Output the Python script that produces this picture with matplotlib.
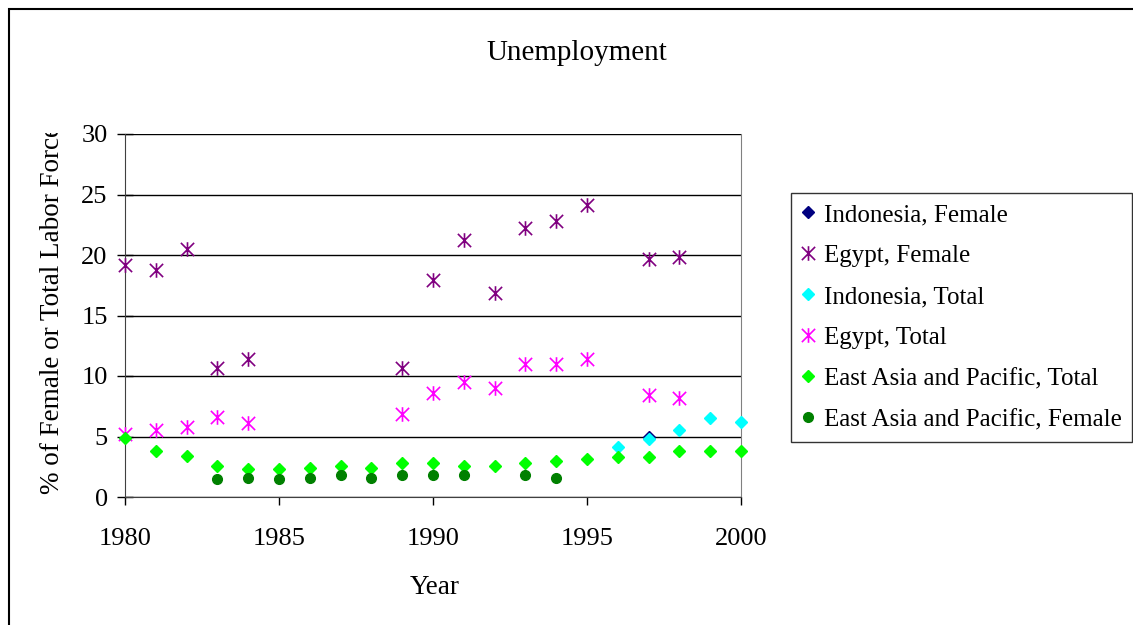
import matplotlib
matplotlib.use("Agg")
import matplotlib.pyplot as plt
from matplotlib.path import Path
from matplotlib.patches import Rectangle
from matplotlib.transforms import Bbox, TransformedBbox

plt.rcParams['font.family'] = ['Liberation Serif', 'DejaVu Serif']

############# DATA #############################################################

egypt_female_years = [1980, 1981, 1982, 1983, 1984, 1989, 1990, 1991, 1992, 1993, 1994, 1995, 1997, 1998]
egypt_female = [19.2, 18.8, 20.5, 10.7, 11.4, 10.7, 17.9, 21.2, 16.9, 22.2, 22.8, 24.1, 19.7, 19.8]

egypt_total_years = [1980, 1981, 1982, 1983, 1984, 1989, 1990, 1991, 1992, 1993, 1994, 1995, 1997, 1998]
egypt_total = [5.2, 5.5, 5.8, 6.6, 6.1, 6.9, 8.6, 9.5, 9.0, 11.0, 11.0, 11.4, 8.4, 8.2]

indonesia_female_years = [1997]
indonesia_female = [5.0]

indonesia_total_years = [1996, 1997, 1998, 1999, 2000]
indonesia_total = [4.1, 4.8, 5.5, 6.5, 6.2]

eap_total_years = list(range(1980, 2001))
eap_total = [4.9, 3.8, 3.4, 2.6, 2.3, 2.3, 2.4, 2.6, 2.4, 2.8, 2.8,
             2.6, 2.6, 2.8, 3.0, 3.1, 3.3, 3.3, 3.8, 3.8, 3.8]

eap_female_years = [1983, 1984, 1985, 1986, 1987, 1988, 1989, 1990, 1991, 1993, 1994]
eap_female = [1.5, 1.6, 1.5, 1.6, 1.8, 1.6, 1.8, 1.8, 1.8, 1.8, 1.6]

############# PLOTTING #########################################################

# Excel style star: an X with a vertical bar through it
star = Path([(-1, -1), (1, 1), (-1, 1), (1, -1), (0, -1.1), (0, 1.1)],
            [Path.MOVETO, Path.LINETO, Path.MOVETO, Path.LINETO, Path.MOVETO, Path.LINETO])

W, H = 1133, 625
fig = plt.figure(figsize=(W / 100, H / 100), dpi=100)
ax = fig.add_axes([125 / W, 1 - 497 / H, (741 - 125) / W, (497 - 134) / H])

ax.plot(indonesia_female_years, indonesia_female, ls='none', marker='D', ms=6.5,
        color='#000080', label='Indonesia, Female', zorder=3, clip_on=False)
ax.plot(egypt_female_years, egypt_female, ls='none', marker=star, ms=10.5, mew=1.2,
        color='#800080', label='Egypt, Female', zorder=3, clip_on=False)
ax.plot(indonesia_total_years, indonesia_total, ls='none', marker='D', ms=6.5,
        color='#00FFFF', label='Indonesia, Total', zorder=3, clip_on=False)
ax.plot(egypt_total_years, egypt_total, ls='none', marker=star, ms=10.5, mew=1.2,
        color='#FF00FF', label='Egypt, Total', zorder=3, clip_on=False)
ax.plot(eap_total_years, eap_total, ls='none', marker='D', ms=6.5,
        color='#00FF00', label='East Asia and Pacific, Total', zorder=3, clip_on=False)
ax.plot(eap_female_years, eap_female, ls='none', marker='o', ms=7,
        color='#008000', label='East Asia and Pacific, Female', zorder=3, clip_on=False)

ax.set_xlim(1980, 2000)
ax.set_ylim(0, 30)
ax.set_xticks(range(1980, 2001, 5))
ax.set_yticks(range(0, 31, 5))
ax.yaxis.grid(True, color='black', lw=1)
ax.set_axisbelow(True)
ax.tick_params(labelsize=19, width=1)
ax.tick_params(axis='x', direction='out', length=6, pad=16.5)
ax.tick_params(axis='y', direction='inout', length=12, pad=6.5)
ax.spines['top'].set_visible(False)
ax.spines['right'].set_color('#808080')
for s in ['left', 'bottom']:
    ax.spines[s].set_color('#404040')

fig.text(577 / W, 1 - 53 / H, 'Unemployment', fontsize=21, ha='center', va='center')
fig.text(435 / W, 1 - 588 / H, 'Year', fontsize=19.5, ha='center', va='center')
ylab = fig.text(53 / W, 1 - 494 / H, '% of Female or Total Labor Force', fontsize=19.5,
                rotation=90, ha='center', va='bottom')
# the label is cut off at the top of the plot, as in the original
ylab.set_clip_box(TransformedBbox(Bbox([[0, 0], [1, 1 - 133 / H]]), fig.transFigure))
ylab.set_clip_on(True)

leg = fig.legend(loc='upper left', bbox_to_anchor=(791 / W, 1 - 193 / H),
                 fontsize=18, frameon=True, fancybox=False, edgecolor='black',
                 handlelength=0.55, handletextpad=0.35, labelspacing=0.74,
                 borderpad=0.42, borderaxespad=0, handleheight=0.7)
leg.get_frame().set_linewidth(1)

# outer chart frame
fig.patches.append(Rectangle((9 / W, -0.1), 1.2, 1 - 9 / H + 0.1, transform=fig.transFigure,
                             fill=False, edgecolor='black', lw=1.5))

fig.savefig('out.png', dpi=100)
